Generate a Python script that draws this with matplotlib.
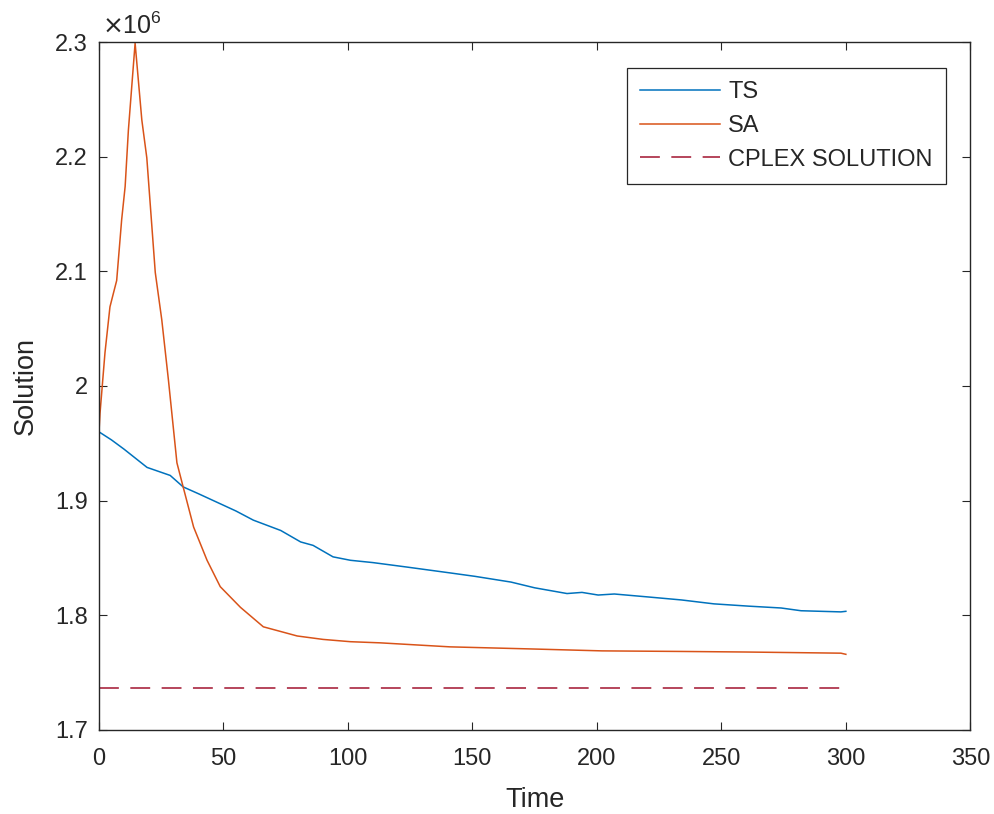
import matplotlib
matplotlib.use("Agg")
import matplotlib.pyplot as plt
from matplotlib.ticker import FuncFormatter, MultipleLocator

plt.rcParams['font.family'] = ['Liberation Sans', 'DejaVu Sans']

# Data (solution values in units of 1e6)
ts_time = [0, 5, 10, 19.3, 28.6, 33.8, 40, 46, 55, 62, 73, 81, 86, 94, 101, 110, 124,
           141, 151, 165.5, 175, 188, 194, 200.5, 207, 220.7, 234, 247, 261, 274, 282, 298, 300]
ts_vals = [1.960, 1.953, 1.945, 1.929, 1.922, 1.912, 1.906, 1.900, 1.891, 1.883, 1.874,
           1.864, 1.861, 1.851, 1.848, 1.846, 1.842, 1.837, 1.834, 1.829, 1.824, 1.819,
           1.820, 1.8177, 1.8186, 1.816, 1.8134, 1.810, 1.808, 1.8064, 1.804, 1.803, 1.8035]

sa_time = [0, 0.4, 2.4, 4.4, 5.8, 7.1, 9.1, 10.5, 11.8, 14.5, 17.2, 19.2, 22.6, 25.2,
           27.9, 31.3, 33.8, 38, 43.4, 48.7, 56.8, 66, 79.6, 90, 101, 113, 121, 141, 175,
           202, 234, 260, 298, 300]
sa_vals = [1.960, 1.976, 2.029, 2.069, 2.081, 2.092, 2.145, 2.174, 2.223, 2.299, 2.232,
           2.199, 2.099, 2.058, 2.005, 1.933, 1.912, 1.877, 1.848, 1.825, 1.807, 1.790,
           1.782, 1.779, 1.777, 1.776, 1.775, 1.7725, 1.7706, 1.769, 1.7685, 1.768, 1.767, 1.766]

cplex_time = [0, 300]
cplex_vals = [1.7364, 1.7364]

labels = ['TS', 'SA', 'CPLEX SOLUTION']

fig = plt.figure(figsize=(9.94, 8.14), dpi=100)
ax = fig.add_axes([0.0996, 0.1032, 0.8766, 0.8452])

ax.plot(ts_time, ts_vals, color='#0072BD', lw=1.1, label=labels[0])
ax.plot(sa_time, sa_vals, color='#D95319', lw=1.1, label=labels[1])
ax.plot(cplex_time, cplex_vals, color='#A2142F', lw=1.1, ls=(0, (13, 7.5)), label=labels[2])

ax.set_xlim(0, 350)
ax.set_ylim(1.7, 2.3)
ax.xaxis.set_major_locator(MultipleLocator(50))
ax.yaxis.set_major_locator(MultipleLocator(0.1))
ax.yaxis.set_major_formatter(FuncFormatter(lambda v, p: '%g' % round(v, 3)))

tc = '#262626'
ax.tick_params(direction='in', length=6, width=0.8, top=True, right=True,
               labelsize=17, colors=tc)
ax.tick_params(axis='x', pad=13)
ax.tick_params(axis='y', pad=8)
for s in ax.spines.values():
    s.set_color(tc)
    s.set_linewidth(1.0)

ax.set_xlabel('Time', fontsize=19.5, color=tc, labelpad=12)
ax.set_ylabel('Solution', fontsize=19.5, color=tc, labelpad=12)

ax.text(0.004, 1.004, r'$\times\mathregular{10^{6}}$', transform=ax.transAxes,
        fontsize=18, color=tc, ha='left', va='bottom')

leg = ax.legend(loc='upper right', bbox_to_anchor=(0.9715, 0.962), fontsize=17,
                frameon=True, fancybox=False, edgecolor=tc, framealpha=1,
                handlelength=3.4, handletextpad=0.35, labelspacing=0.5,
                borderpad=0.55, borderaxespad=0)
leg.get_frame().set_linewidth(0.9)
for t in leg.get_texts():
    t.set_color(tc)

fig.savefig('out.png', dpi=100, facecolor='white')
